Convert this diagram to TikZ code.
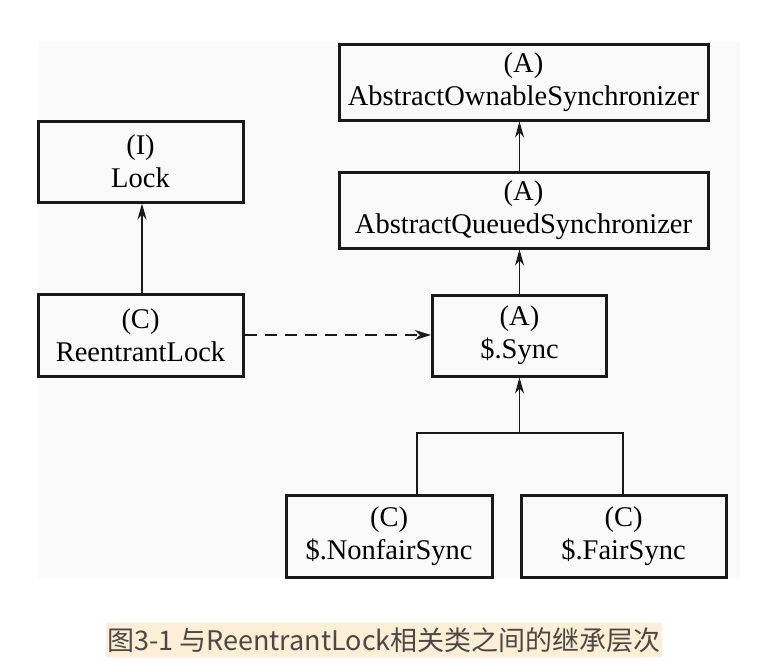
\documentclass[tikz,border=0pt]{standalone}
\usepackage{fontspec}
\setmainfont{Liberation Serif}
\newfontfamily\capfont{Noto Sans CJK SC}
\usepackage{tikz}
\usetikzlibrary{calc,positioning,arrows.meta}
\usepackage{xcolor}
\definecolor{bgc}{RGB}{250,250,250}
\definecolor{hlc}{RGB}{253,239,214}
\definecolor{capc}{RGB}{75,72,70}
\tikzset{
  cls/.style={rectangle,draw=black!90,line width=3pt,inner sep=0pt,align=center,font=\fontsize{28.5}{33}\selectfont},
  inh/.style={-{Stealth[length=16pt,width=9pt,inset=5pt]},line width=1.6pt,black!90},
  dep/.style={-{Stealth[length=16pt,width=10pt,inset=5pt]},line width=1.6pt,black!90,dash pattern=on 12pt off 8pt},
  tree/.style={line width=1.6pt,black!90},
}
\begin{document}
\begin{tikzpicture}[x=1pt,y=-1pt]
  \useasboundingbox (0,0) rectangle (773,667);
  \fill[bgc] (38,41) rectangle (740,578);
  % class boxes
  \node[cls,minimum width=369pt,minimum height=76pt](aos) at (523.5,82){(A)\\AbstractOwnableSynchronizer};
  \node[cls,minimum width=369pt,minimum height=76pt](aqs) at (523.5,210){(A)\\AbstractQueuedSynchronizer};
  \node[cls,minimum width=174pt,minimum height=81pt](sync) at (519.5,335.5){(A)\\\$.Sync};
  \node[cls,minimum width=205pt,minimum height=81pt](lock) at (140.5,161.5){(I)\\Lock};
  \node[cls,minimum width=205pt,minimum height=82pt](rl) at (140.5,335){(C)\\ReentrantLock};
  \node[cls,minimum width=206pt,minimum height=82pt](nf) at (389,536){(C)\\\$.NonfairSync};
  \node[cls,minimum width=205pt,minimum height=82pt](fs) at (623.5,536){(C)\\\$.FairSync};
  % inheritance
  \draw[inh](rl.north -| 142,0)--(lock.south -| 142,0);
  \draw[inh](aqs.north -| sync.north)--(aos.south -| sync.north);
  \draw[inh](sync.north)--(aqs.south -| sync.north);
  \draw[dep](rl.east)--(sync.west |- rl.east);
  % subclasses of Sync
  \coordinate (j) at (519.5,433); \coordinate (jl) at (417,433); \coordinate (jr) at (623,433);
  \draw[tree](nf.north -| jl)--(jl)--(jr)--(fs.north -| jr);
  \draw[inh](j)--(sync.south);
  % caption
  \node[fill=hlc,text=capc,inner xsep=1pt,minimum height=34pt,font=\capfont\fontsize{27}{30}\selectfont](cap) at (384,640){图3-1 与ReentrantLock相关类之间的继承层次};
\end{tikzpicture}
\end{document}
